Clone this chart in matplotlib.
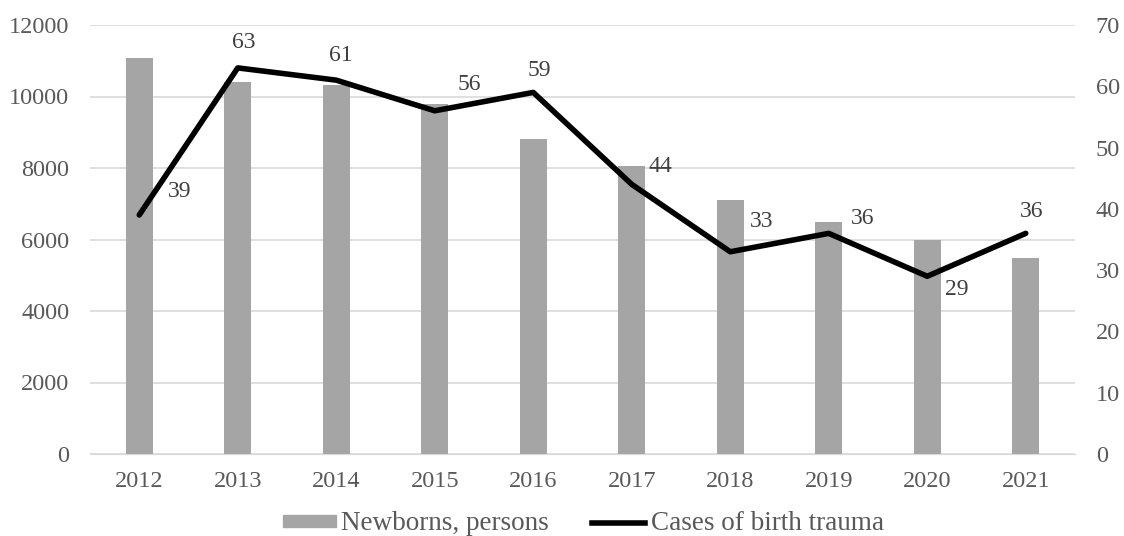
import matplotlib
matplotlib.use("Agg")
import matplotlib.pyplot as plt
from matplotlib.lines import Line2D
from matplotlib.patches import Patch

years = ["2012", "2013", "2014", "2015", "2016", "2017", "2018", "2019", "2020", "2021"]
newborns = [11070, 10400, 10320, 9780, 8810, 8060, 7100, 6480, 6000, 5470]
trauma = [39, 63, 61, 56, 59, 44, 33, 36, 29, 36]

# label offsets in pixels (layout only)
label_offsets = [(40, 23), (6, 25), (5, 25), (35, 26), (6, 22), (29, 18), (31, 30), (34, 15), (29, -13), (6, 22)]

plt.rcParams['font.family'] = ['Liberation Serif', 'DejaVu Serif']
TXT = '#595959'

fig = plt.figure(figsize=(11.24, 5.36), dpi=100)
ax = fig.add_axes([90/1124, 1 - 454/536, (1075-90)/1124, (454-25)/536])
ax2 = ax.twinx()

x = list(range(len(years)))
ax.bar(x, newborns, width=0.27, color='#A5A5A5', zorder=2)
ax.set_ylim(0, 12000)
ax.set_yticks(range(0, 12001, 2000))
ax.set_xlim(-0.5, len(years) - 0.5)
ax.set_xticks(x)
ax.set_xticklabels(years)
ax.grid(axis='y', color='#D9D9D9', linewidth=1.2, zorder=0)
ax.set_axisbelow(True)

ax2.plot(x, trauma, color='black', linewidth=4.0, zorder=3, solid_capstyle='round')
ax2.set_ylim(0, 70)
ax2.set_yticks(range(0, 71, 10))

for i, v in enumerate(trauma):
    dx, dy = label_offsets[i]
    ax2.annotate(str(v), (x[i], v), xytext=(dx * 0.72, dy * 0.72), textcoords='offset points',
                 ha='center', va='center', fontsize=17, color='#404040')

for a in (ax, ax2):
    for s in a.spines.values():
        s.set_visible(False)
    a.tick_params(length=0, labelsize=17.5, labelcolor=TXT)
ax.spines['bottom'].set_visible(True)
ax.spines['bottom'].set_color('#D9D9D9')
ax.tick_params(axis='y', pad=15)
ax2.tick_params(axis='y', pad=15)
ax.tick_params(axis='x', pad=12)

handles = [Patch(color='#A5A5A5'), Line2D([0], [0], color='black', linewidth=4.0)]
fig.legend(handles, ['Newborns, persons', 'Cases of birth trauma'], loc='center left',
           bbox_to_anchor=(283/1124, 1 - 524/536), ncol=2, frameon=False, fontsize=19.5,
           labelcolor=TXT, handlelength=1.95, handleheight=0.3, handletextpad=0.2,
           columnspacing=1.6, borderpad=0, borderaxespad=0)

fig.savefig('out.png', dpi=100)
